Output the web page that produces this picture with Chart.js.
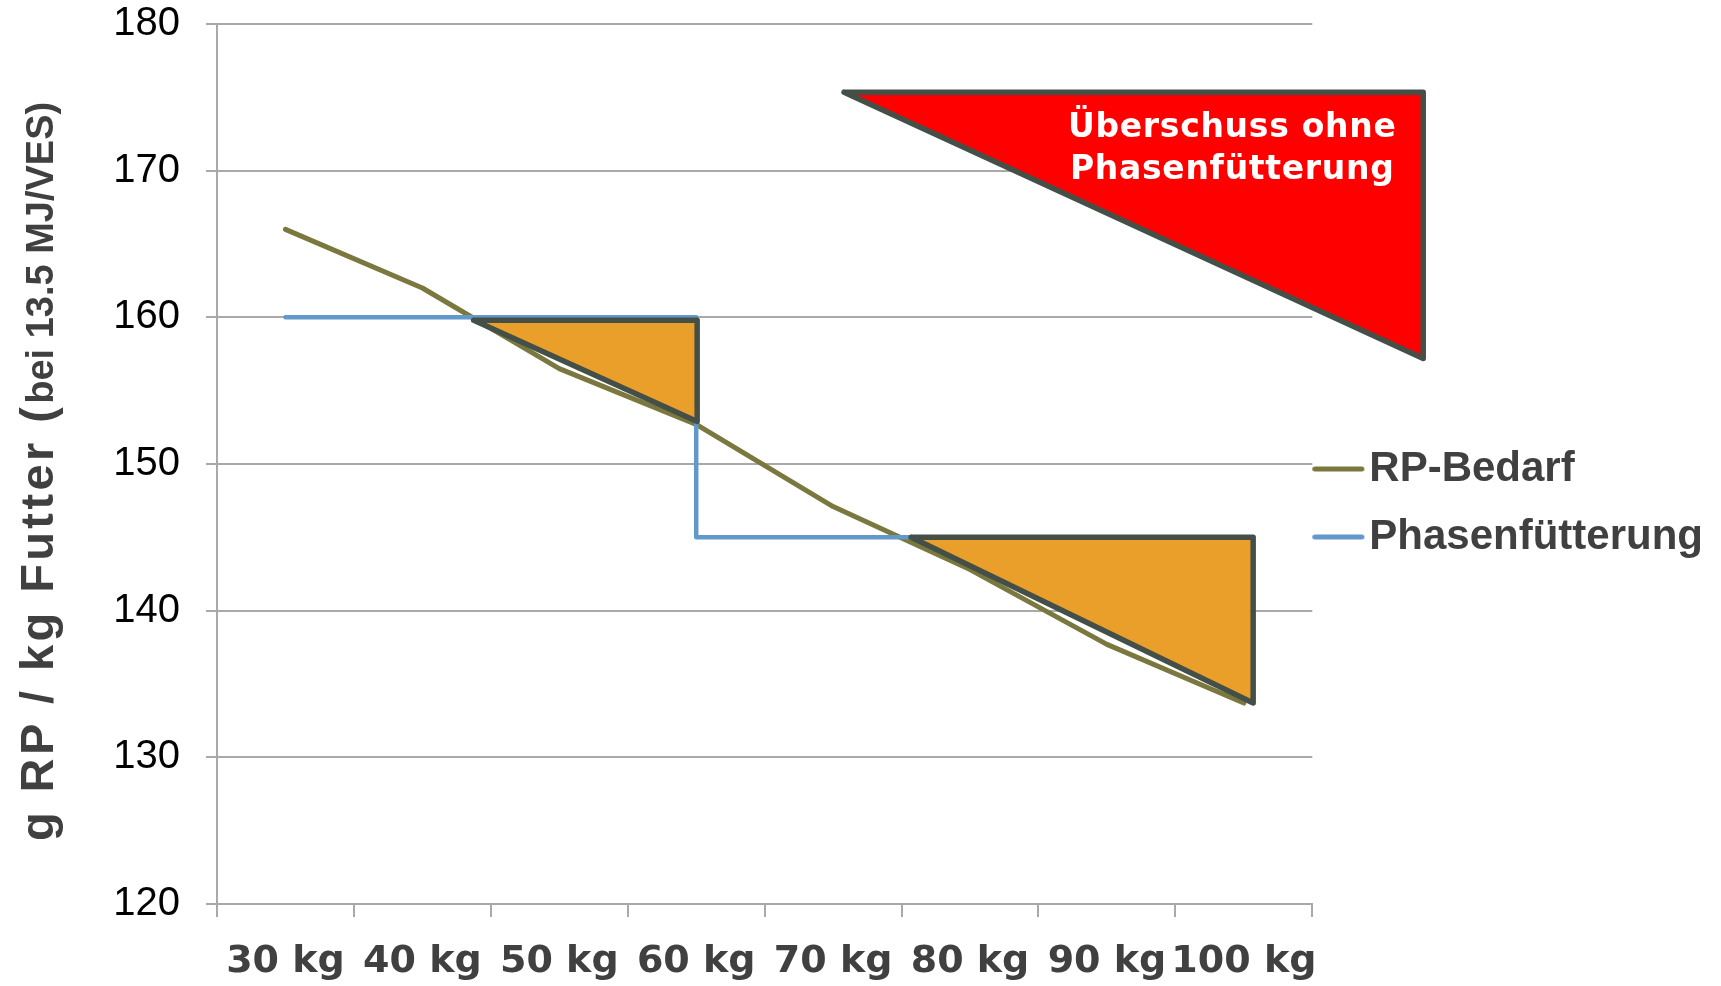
<!DOCTYPE html>
<html>
<head>
<meta charset="utf-8">
<script src="https://cdn.jsdelivr.net/npm/chart.js@4.4.1/dist/chart.umd.min.js"></script>
<style>
  html, body { margin: 0; padding: 0; background: #ffffff; }
  canvas { display: block; }
</style>
</head>
<body>
<canvas id="c" width="1721" height="986"></canvas>
<script>
// ---- data ----
const categories = ['30 kg', '40 kg', '50 kg', '60 kg', '70 kg', '80 kg', '90 kg', '100 kg'];
const rpBedarf = [166.0, 162.0, 156.5, 152.7, 147.1, 142.8, 137.7, 133.7];
// Phasenfütterung: category position (index) and value, step down at 60 kg
const phaseX = [0, 1, 2, 3, 3, 4, 5, 6, 7];
const phaseY = [160, 160, 160, 160, 145, 145, 145, 145, 145];
// highlighted areas (category-index position, value)
const surplus1X = [1.375, 3.007, 3.007, 1.375];
const surplus1Y = [159.8, 159.8, 152.9, 159.8];
const surplus2X = [4.57, 7.068, 7.068, 4.57];
const surplus2Y = [145, 145, 133.7, 145];
const noPhaseX = [4.08, 8.31, 8.31, 4.08];
const noPhaseY = [175.35, 175.35, 157.2, 175.35];
const yTicks = [120, 130, 140, 150, 160, 170, 180];
const noPhaseText = ['Überschuss ohne', 'Phasenfütterung'];
const noPhaseTextX = 6.915;
const noPhaseTextY = [172.3, 169.43];
const yTitleMain = 'g RP / kg Futter (';
const yTitleSmall = 'bei 13.5 MJ/VES)';

const toPts = (xs, ys) => xs.map((x, i) => ({ x: x, y: ys[i] }));

const OLIVE = '#7A783E';
const BLUE = '#6398CB';
const ORANGE = '#EB9F2B';
const OUTLINE = '#445047';
const GRID = '#A9A9A9';
const TEXT = '#404040';

function swatch(color) {
  const c = document.createElement('canvas');
  c.width = 62; c.height = 10;
  const g = c.getContext('2d');
  g.strokeStyle = color;
  g.lineWidth = 5;
  g.lineCap = 'round';
  g.beginPath();
  g.moveTo(2.5, 5);
  g.lineTo(49.5, 5);
  g.stroke();
  return c;
}

const redFill = {
  id: 'redFill',
  beforeDatasetsDraw(chart) {
    const meta = chart.getDatasetMeta(4);
    const ctx = chart.ctx;
    ctx.save();
    ctx.beginPath();
    meta.data.forEach((p, i) => { if (i === 0) ctx.moveTo(p.x, p.y); else ctx.lineTo(p.x, p.y); });
    ctx.closePath();
    ctx.fillStyle = '#FF0000';
    ctx.fill();
    ctx.restore();
  },
  afterDatasetsDraw(chart) {
    const ctx = chart.ctx;
    const xs = chart.scales.xl, ys = chart.scales.y;
    ctx.save();
    ctx.fillStyle = '#FFFFFF';
    ctx.font = 'bold 33px "DejaVu Sans"';
    ctx.letterSpacing = '0.7px';
    ctx.textAlign = 'center';
    ctx.textBaseline = 'alphabetic';
    noPhaseText.forEach((t, i) => {
      ctx.fillText(t, xs.getPixelForValue(noPhaseTextX), ys.getPixelForValue(noPhaseTextY[i]));
    });
    ctx.restore();
  }
};

const yTitle = {
  id: 'yTitle',
  afterDraw(chart) {
    const ctx = chart.ctx;
    const a = chart.chartArea;
    ctx.save();
    ctx.translate(53, a.bottom - 63);
    ctx.rotate(-Math.PI / 2);
    ctx.fillStyle = TEXT;
    ctx.textAlign = 'left';
    ctx.textBaseline = 'alphabetic';
    ctx.font = 'bold 47px "Liberation Sans"';
    ctx.letterSpacing = '3.4px';
    ctx.fillText(yTitleMain, 0, 0);
    const w = ctx.measureText(yTitleMain).width;
    ctx.font = 'bold 38px "Liberation Sans"';
    ctx.letterSpacing = '0px';
    ctx.fillText(yTitleSmall, w, 0);
    ctx.restore();
  }
};

const lineBase = {
  type: 'line',
  pointRadius: 0,
  pointHoverRadius: 0,
  tension: 0,
  borderCapStyle: 'round',
  borderJoinStyle: 'round'
};

new Chart(document.getElementById('c'), {
  type: 'line',
  data: {
    labels: categories,
    datasets: [
      Object.assign({}, lineBase, {
        label: 'RP-Bedarf', data: rpBedarf, xAxisID: 'x',
        borderColor: OLIVE, backgroundColor: OLIVE, borderWidth: 5, order: 4, fill: false
      }),
      Object.assign({}, lineBase, {
        label: 'Phasenfütterung', data: toPts(phaseX, phaseY), xAxisID: 'xl',
        borderColor: BLUE, backgroundColor: BLUE, borderWidth: 4.5, order: 3, fill: false
      }),
      Object.assign({}, lineBase, {
        label: 'surplus1', data: toPts(surplus1X, surplus1Y), xAxisID: 'xl',
        borderColor: OUTLINE, backgroundColor: ORANGE, borderWidth: 5.5, order: 1, fill: 'shape'
      }),
      Object.assign({}, lineBase, {
        label: 'surplus2', data: toPts(surplus2X, surplus2Y), xAxisID: 'xl',
        borderColor: OUTLINE, backgroundColor: ORANGE, borderWidth: 5.5, order: 1, fill: 'shape'
      }),
      Object.assign({}, lineBase, {
        label: 'noPhase', data: toPts(noPhaseX, noPhaseY), xAxisID: 'xl',
        borderColor: OUTLINE, backgroundColor: '#FF0000', borderWidth: 5.5, order: 0, fill: false, clip: false
      })
    ]
  },
  options: {
    responsive: false,
    devicePixelRatio: 1,
    animation: false,
    events: [],
    layout: { padding: { top: 24, right: 8, bottom: 0, left: 0 } },
    plugins: {
      tooltip: { enabled: false },
      legend: {
        display: true,
        position: 'right',
        align: 'start',
        title: {
          display: true, text: ' ', color: 'rgba(0,0,0,0)',
          font: { size: 10, lineHeight: 1 },
          padding: { top: 388, bottom: 0 }
        },
        labels: {
          usePointStyle: true,
          pointStyleWidth: 10,
          padding: 26,
          color: TEXT,
          font: { family: '"Liberation Sans"', size: 42, weight: 'bold' },
          sort: (a, b) => a.datasetIndex - b.datasetIndex,
          generateLabels(chart) {
            const items = Chart.defaults.plugins.legend.labels.generateLabels(chart);
            return items.filter(it => it.datasetIndex < 2).map(it => {
              it.pointStyle = swatch(chart.data.datasets[it.datasetIndex].borderColor);
              return it;
            });
          }
        }
      }
    },
    scales: {
      x: {
        type: 'category',
        offset: true,
        grid: { display: true, offset: true, drawOnChartArea: false, drawTicks: true, tickLength: 13, color: GRID, lineWidth: 2 },
        border: { display: true, color: GRID, width: 2 },
        ticks: {
          color: TEXT, padding: 22, maxRotation: 0, autoSkip: false,
          font: { family: '"DejaVu Sans"', size: 38, weight: 'bold' }
        },
        afterFit(s) { s.height = 82; }
      },
      xl: { type: 'linear', display: false, min: -0.5, max: 7.5 },
      y: {
        type: 'linear',
        min: 120, max: 180,
        afterBuildTicks(s) { s.ticks = yTicks.map(v => ({ value: v })); },
        grid: { color: GRID, lineWidth: 2, tickLength: 11, drawTicks: true },
        border: { display: true, color: GRID, width: 2 },
        ticks: {
          color: '#000000', padding: 26,
          font: { family: '"Liberation Sans"', size: 40 }
        },
        afterFit(s) { s.width = 217; s.paddingTop = 0; s.paddingBottom = 0; }
      }
    }
  },
  plugins: [redFill, yTitle]
});
</script>
</body>
</html>
